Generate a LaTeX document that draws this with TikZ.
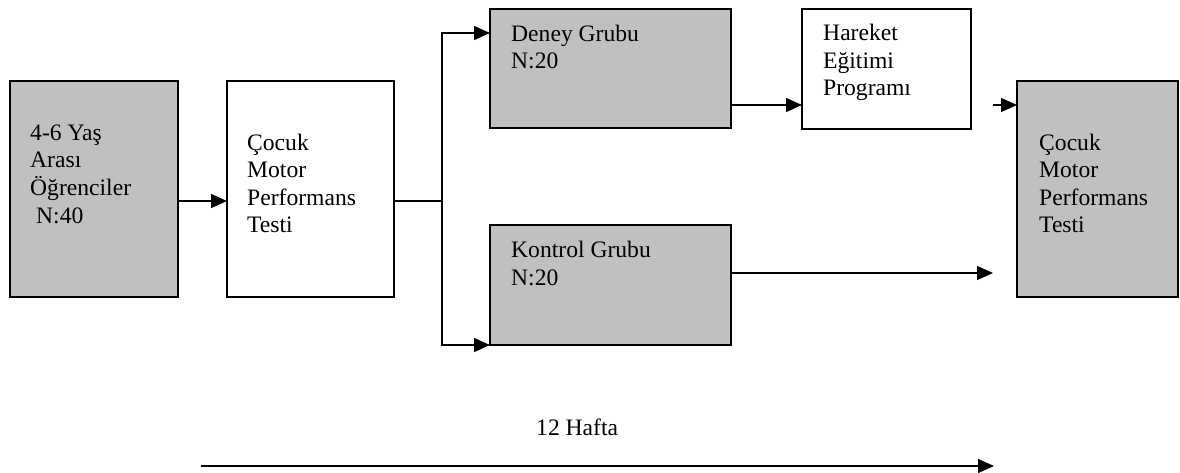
\documentclass[tikz,border=0pt]{standalone}
\usepackage{fontspec}
\setmainfont{Liberation Serif}
\usetikzlibrary{arrows.meta,calc}
\definecolor{boxgray}{RGB}{192,192,192}
\begin{document}
\begin{tikzpicture}[x=1pt,y=-1pt,
  box/.style={draw=black, line width=1.8pt, inner sep=0pt, outer sep=0pt},
  gbox/.style={box, fill=boxgray},
  txt/.style={anchor=base west, inner sep=0pt, align=left, font=\fontsize{23.6}{27.5}\selectfont},
  conn/.style={line width=1.4pt},
  arr/.style={conn, -{Triangle[length=16pt,width=14pt]}}]
\useasboundingbox (0,0) rectangle (1180,473);
% boxes
\node[gbox, minimum width=168pt, minimum height=216pt] (A) at (94,189) {};
\node[box, fill=white, minimum width=167pt, minimum height=216pt] (B) at (310.5,189) {};
\node[gbox, minimum width=241pt, minimum height=119pt] (D) at (610.5,68.5) {};
\node[gbox, minimum width=241pt, minimum height=120pt] (K) at (610.5,285) {};
\node[box, fill=white, minimum width=169pt, minimum height=120pt] (H) at (886.5,69) {};
\node[gbox, minimum width=161pt, minimum height=216pt] (C) at (1097.5,189) {};
% texts (anchored at the baseline of their last line)
\node[txt] (tA) at (30,223) {4-6 Yaş\\Arası\\Öğrenciler\\\hspace*{6pt}N:40};
\node[txt] (tB) at (247,233) {Çocuk\\Motor\\Performans\\Testi};
\node[txt] (tD) at (511,69) {Deney Grubu\\N:20};
\node[txt] (tK) at (511,285) {Kontrol Grubu\\N:20};
\node[txt] (tH) at (823,96) {Hareket\\Eğitimi\\Programı};
\node[txt] (tC) at (1039,233) {Çocuk\\Motor\\Performans\\Testi};
\node[txt] (tW) at (536,435) {12 Hafta};
% helper coordinates
\coordinate (yab) at (0,201);
\coordinate (split) at (442,201);
\coordinate (ydh) at (0,105);
\coordinate (hc) at (993,105);
\coordinate (ykc) at (0,273);
\coordinate (kc) at (993,273);
\coordinate (w1) at (201,466);
\coordinate (w2) at (994,466);
% connectors
\draw[arr] (A.east |- yab) -- (B.west |- yab);
\draw[conn] (B.east |- yab) -- (split);
\draw[arr] (split) |- ($(D.north west)+(0,24)$);
\draw[arr] (split) |- (K.south west);
\draw[arr] (D.east |- ydh) -- (H.west |- ydh);
\draw[arr] (hc) -- (C.west |- hc);
\draw[arr] (K.east |- ykc) -- (kc);
\draw[arr] (w1) -- (w2);
\end{tikzpicture}
\end{document}
